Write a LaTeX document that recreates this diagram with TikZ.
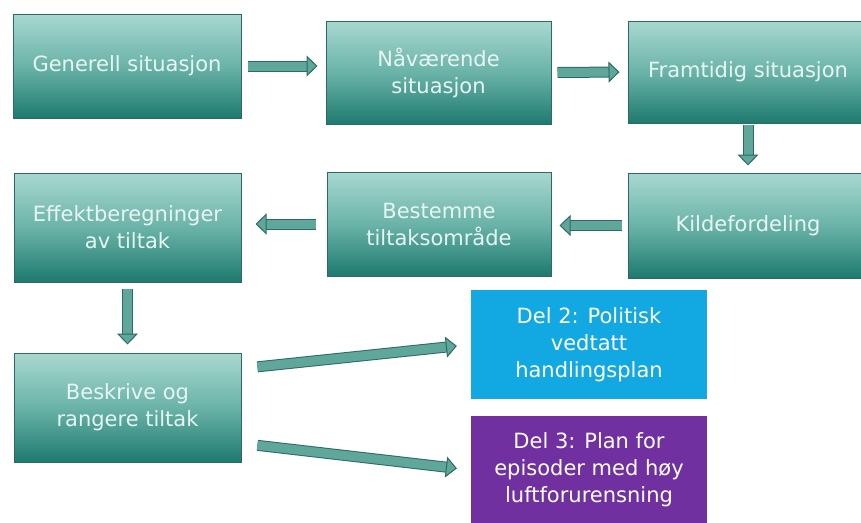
\documentclass[tikz,border=0pt]{standalone}
\usepackage{fontspec}
\setmainfont{DejaVu Sans}
\usepackage{tikz}
\usetikzlibrary{arrows.meta}
\definecolor{boxtop}{HTML}{A8D8D0}
\definecolor{boxmid}{HTML}{6AB3A8}
\definecolor{boxbot}{HTML}{1E7A6F}
\definecolor{boxline}{HTML}{2C6A62}
\definecolor{boxtext}{HTML}{E8F6F3}
\definecolor{arrowfill}{HTML}{5FA79B}
\definecolor{skyblue}{HTML}{12A8E2}
\definecolor{violet}{HTML}{7030A0}
\tikzset{
  label box/.style={align=center, inner sep=2pt, font=\fontsize{21}{27}\selectfont},
  box/.style={label box, draw=boxline, line width=1pt, top color=boxtop, bottom color=boxbot,
    middle color=boxmid, text=boxtext},
  delbox/.style={label box, text=white},
  flow/.style={draw=boxline, line width=1pt, double=arrowfill, double distance=9pt,
    -{Triangle[length=11pt, width=21pt, line width=1pt, fill=arrowfill]},
    shorten <=6pt, shorten >=8pt}
}
\begin{document}
\begin{tikzpicture}[x=1pt,y=-1pt]
  \useasboundingbox (0,0) rectangle (861,522);
  % top row
  \node[box, minimum width=228pt, minimum height=104pt] (gen) at (127,66) {Generell situasjon};
  \node[box, minimum width=225pt, minimum height=103pt] (naa) at (438.5,72.5) {Nåværende\\situasjon};
  \node[box, minimum width=240pt, minimum height=102pt] (fram) at (748,72) {Framtidig situasjon};
  % second row
  \node[box, minimum width=240pt, minimum height=105pt] (kilde) at (748,225.5) {Kildefordeling};
  \node[box, minimum width=224pt, minimum height=104pt] (best) at (439,224) {Bestemme\\tiltaksområde};
  \node[box, minimum width=227pt, minimum height=109pt] (eff) at (127.5,227.5) {Effektberegninger\\av tiltak};
  % bottom
  \node[box, minimum width=227pt, minimum height=109pt] (besk) at (127.5,407.5) {Beskrive og\\rangere tiltak};
  \node[delbox, fill=skyblue, minimum width=236pt, minimum height=109pt] (del2) at (589,344.5) {Del 2: Politisk\\vedtatt\\handlingsplan};
  \node[delbox, fill=violet, minimum width=236pt, minimum height=108pt] (del3) at (589,470) {Del 3: Plan for\\episoder med høy\\luftforurensning};

  \draw[flow] (gen.east) -- (gen.east -| naa.west);
  \draw[flow] (naa.east) -- (fram.west);
  \draw[flow, shorten <=1pt, shorten >=7pt] (fram.south) -- (kilde.north);
  \draw[flow] (kilde.west) -- (kilde.west -| best.east);
  \draw[flow, shorten <=11pt, shorten >=14pt] (best.west) -- (best.west -| eff.east);
  \draw[flow] (eff.south) -- (besk.north);
  \draw[flow, shorten <=16pt, shorten >=14pt] ([yshift=39pt]besk.east) -- (del2.west);
  \draw[flow, shorten <=16pt, shorten >=14pt] ([yshift=-36pt]besk.east) -- (del3.west);
\end{tikzpicture}
\end{document}
